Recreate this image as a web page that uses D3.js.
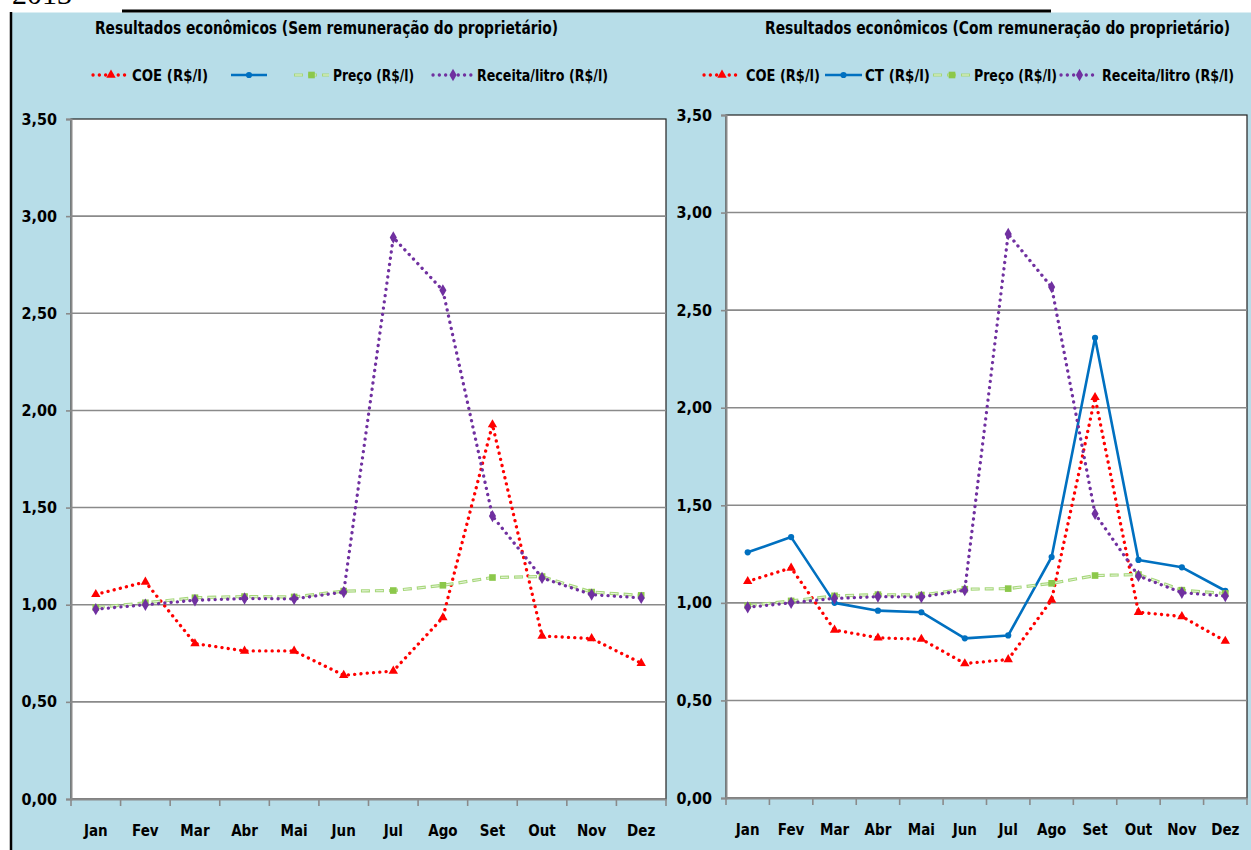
<!DOCTYPE html>
<html>
<head>
<meta charset="utf-8">
<script src="https://cdn.jsdelivr.net/npm/d3@7"></script>
<style>
    body { margin: 0; background: #fff; }
    svg text { font-family: "DejaVu Sans Condensed", "DejaVu Sans", sans-serif; font-stretch: condensed; font-weight: bold; fill: #000; }
    .yr { font-family: "Liberation Serif", "DejaVu Serif", serif; font-weight: normal; font-stretch: normal; }
</style>
</head>
<body>
<svg id="chart" width="1251" height="850"></svg>
<script>
    // data
    const meses = ["Jan", "Fev", "Mar", "Abr", "Mai", "Jun", "Jul", "Ago", "Set", "Out", "Nov", "Dez"];
    const yTicks = [0, 0.5, 1, 1.5, 2, 2.5, 3, 3.5];
    const coeSem = [1.053, 1.117, 0.80, 0.762, 0.762, 0.637, 0.659, 0.934, 1.927, 0.839, 0.826, 0.699];
    const coeCom = [1.110, 1.179, 0.861, 0.821, 0.814, 0.689, 0.710, 1.015, 2.053, 0.952, 0.930, 0.804];
    const ctCom = [1.259, 1.337, 1.0, 0.960, 0.952, 0.818, 0.833, 1.235, 2.358, 1.220, 1.182, 1.062];
    const preco = [0.985, 1.010, 1.036, 1.042, 1.040, 1.070, 1.073, 1.100, 1.140, 1.145, 1.065, 1.048];
    const receita = [0.977, 1.000, 1.023, 1.032, 1.030, 1.065, 2.890, 2.618, 1.456, 1.138, 1.052, 1.035];

    const svg = d3.select('#chart');
    const fmt = d => d3.format('.2f')(d).replace('.', ',');

    // background / frame
    svg.append('text').attr('class', 'yr').attr('x', 12).attr('y', 4)
        .style('font-size', '30px').text('2013');
    svg.append('rect').attr('x', 12).attr('y', 12.5).attr('width', 1239).attr('height', 838).attr('fill', '#b7dde8');
    svg.append('line').attr('x1', 122).attr('x2', 1051).attr('y1', 11).attr('y2', 11)
        .attr('stroke', '#000').attr('stroke-width', 3);
    svg.append('line').attr('x1', 11).attr('x2', 11).attr('y1', 12).attr('y2', 850)
        .attr('stroke', '#000').attr('stroke-width', 2.5);

    const styles = {
        coe: {color: '#ff0000', width: 3.3, dash: '0.1 6.2', sym: d3.symbolTriangle, size: 38},
        ct: {color: '#0070c0', width: 2.6, dash: null, sym: d3.symbolCircle, size: 30},
        preco: {color: '#a6d77a', width: 3.2, dash: '9 5', sym: d3.symbolSquare, size: 44, inner: '#e6f3da'},
        receita: {color: '#7030a0', width: 3.3, dash: '0.1 6.2', sym: d3.symbolDiamond, size: 44}
    };

    function drawLine(g, pts, st) {
        const line = d3.line();
        const p = g.append('path').attr('d', line(pts)).attr('fill', 'none')
            .attr('stroke', st.color).attr('stroke-width', st.width)
            .attr('stroke-linecap', st.dash && st.dash.startsWith('0.1') ? 'round' : 'butt')
            .attr('stroke-linejoin', 'round');
        if (st.dash) p.attr('stroke-dasharray', st.dash);
        if (st.inner) {
            g.append('path').attr('d', line(pts)).attr('fill', 'none')
                .attr('stroke', st.inner).attr('stroke-width', 1.1)
                .attr('stroke-dasharray', '7 7').attr('stroke-dashoffset', -1);
        }
    }

    function drawMarkers(g, pts, st) {
        g.selectAll(null).data(pts).join('path')
            .attr('transform', d => `translate(${d[0]},${d[1]})`)
            .attr('d', d3.symbol().type(st.sym).size(st.size))
            .attr('fill', st.inner ? '#8cc84b' : st.color);
    }

    function drawChart(cfg) {
        const g = svg.append('g');
        const x = d3.scaleBand().domain(meses).range([cfg.x0, cfg.x1]).padding(0);
        const y = d3.scaleLinear().domain([0, 3.5]).range([cfg.y1, cfg.y0]);

        g.append('rect').attr('x', cfg.x0).attr('y', cfg.y0)
            .attr('width', cfg.x1 - cfg.x0).attr('height', cfg.y1 - cfg.y0)
            .attr('fill', '#fff').attr('stroke', '#222').attr('stroke-width', 1.2);

        // gridlines
        g.selectAll(null).data(yTicks.slice(1, -1)).join('line')
            .attr('x1', cfg.x0).attr('x2', cfg.x1)
            .attr('y1', d => y(d)).attr('y2', d => y(d))
            .attr('stroke', '#8a8a8a').attr('stroke-width', 1.6);

        // y axis
        const ya = g.append('g').attr('transform', `translate(${cfg.x0},0)`)
            .call(d3.axisLeft(y).tickValues(yTicks).tickFormat(fmt).tickSize(5).tickPadding(9));
        ya.select('.domain').attr('stroke', '#8a8a8a').attr('stroke-width', 2);
        ya.selectAll('.tick line').attr('stroke', '#8a8a8a').attr('stroke-width', 1.6);
        ya.selectAll('.tick text').style('font-size', '16px');

        // x axis
        const xa = g.append('g').attr('transform', `translate(0,${cfg.y1})`)
            .call(d3.axisBottom(x).tickSize(0).tickPadding(26));
        xa.select('.domain').attr('stroke', '#8a8a8a').attr('stroke-width', 2);
        xa.selectAll('.tick text').style('font-size', '15px');
        g.selectAll(null).data(meses.concat(['end'])).join('line')
            .attr('x1', (d, i) => cfg.x0 + i * x.bandwidth()).attr('x2', (d, i) => cfg.x0 + i * x.bandwidth())
            .attr('y1', cfg.y1).attr('y2', cfg.y1 + 7)
            .attr('stroke', '#8a8a8a').attr('stroke-width', 1.6);

        // series
        const plot = g.append('g');
        cfg.series.forEach(s => {
            if (!s.values) return;
            const pts = s.values.map((v, i) => [x(meses[i]) + x.bandwidth() / 2, y(v)]);
            drawLine(plot, pts, styles[s.key]);
            drawMarkers(plot, pts, styles[s.key]);
        });

        // title
        g.append('text').attr('x', cfg.titleX).attr('y', 34)
            .attr('textLength', cfg.titleW).attr('lengthAdjust', 'spacingAndGlyphs')
            .style('font-size', '17px').text(cfg.title);

        // legend
        const lg = g.append('g');
        cfg.series.forEach(s => {
            const st = styles[s.key];
            const pts = [[s.lx0, 75], [s.lx1, 75]];
            drawLine(lg, pts, st);
            drawMarkers(lg, [[(s.lx0 + s.lx1) / 2, 75]], st);
            if (s.label) {
                lg.append('text').attr('x', s.tx).attr('y', 80.5)
                    .attr('textLength', s.tw).attr('lengthAdjust', 'spacingAndGlyphs')
                    .style('font-size', '16px').text(s.label);
            }
        });
    }

    drawChart({
        x0: 71, x1: 666, y0: 119, y1: 799,
        title: 'Resultados econômicos (Sem remuneração do proprietário)', titleX: 95, titleW: 463,
        series: [
            {key: 'coe', values: coeSem, label: 'COE (R$/l)', lx0: 93, lx1: 129, tx: 132, tw: 76},
            {key: 'ct', values: null, label: null, lx0: 231, lx1: 267},
            {key: 'preco', values: preco, label: 'Preço (R$/l)', lx0: 294, lx1: 329, tx: 333, tw: 81},
            {key: 'receita', values: receita, label: 'Receita/litro (R$/l)', lx0: 433, lx1: 473, tx: 477, tw: 131}
        ]
    });

    drawChart({
        x0: 726, x1: 1247, y0: 115, y1: 798,
        title: 'Resultados econômicos (Com remuneração do proprietário)', titleX: 765, titleW: 465,
        series: [
            {key: 'coe', values: coeCom, label: 'COE (R$/l)', lx0: 704, lx1: 740, tx: 746, tw: 74},
            {key: 'ct', values: ctCom, label: 'CT (R$/l)', lx0: 825, lx1: 862, tx: 865, tw: 65},
            {key: 'preco', values: preco, label: 'Preço (R$/l)', lx0: 933, lx1: 971, tx: 974, tw: 83},
            {key: 'receita', values: receita, label: 'Receita/litro (R$/l)', lx0: 1061, lx1: 1098, tx: 1102, tw: 132}
        ]
    });
</script>
</body>
</html>
